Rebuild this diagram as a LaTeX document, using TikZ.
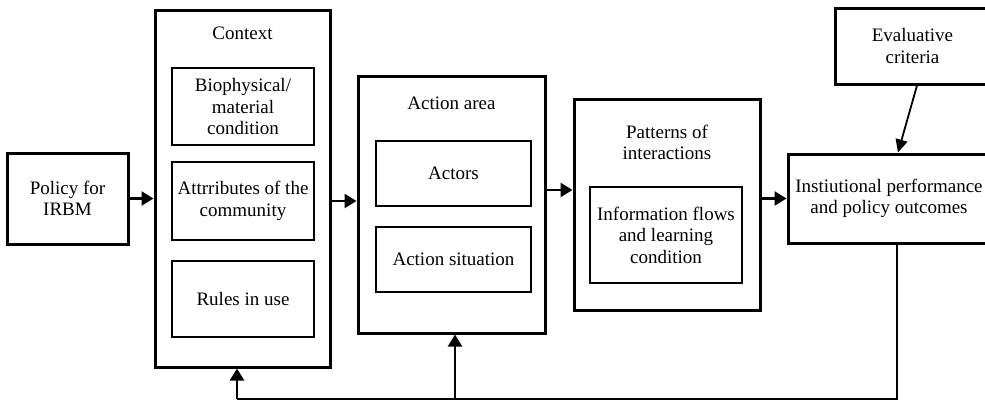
\documentclass[tikz,border=0pt]{standalone}
\usepackage{fontspec}
\setmainfont{Liberation Serif}
\usetikzlibrary{arrows.meta}
\newcommand\diafont{\fontsize{19}{21.5}\selectfont}
\begin{document}
\begin{tikzpicture}[x=1pt,y=-1pt,
  outerbox/.style={draw, line width=3pt, rectangle, inner sep=0pt, align=center, font=\diafont},
  innerbox/.style={draw, line width=2.7pt, rectangle, inner sep=0pt, align=center, font=\diafont},
  sz/.style 2 args={minimum width=#1, minimum height=#2},
  lbl/.style={inner sep=0pt, align=center, font=\diafont},
  arr/.style={line width=2.4pt, -{Triangle[length=12pt,width=14pt]}},
  thinarr/.style={line width=1.8pt, -{Triangle[length=13pt,width=12pt]}},
  ln/.style={line width=2.4pt}]
\useasboundingbox (0,0) rectangle (985,402);
\clip (0,0) rectangle (985,402);
\fill[white] (0,0) rectangle (985,402);

% Policy
\node[outerbox, sz={121}{91}] (policy) at (67.5,198.5) {Policy for\\IRBM};

% Context
\node[outerbox, sz={175}{357}] (context) at (242.5,188.5) {};
\node[lbl] (ctxlbl) at (242.5,33) {Context};
\node[innerbox, sz={142}{77}] (bio) at (243,106.5) {Biophysical/\\material\\condition};
\node[innerbox, sz={142}{78}] (attr) at (243,201) {Attrributes of the\\community};
\node[innerbox, sz={142}{76}] (rules) at (243,299) {Rules in use};

% Action area
\node[outerbox, sz={187}{257}] (action) at (451.5,204.5) {};
\node[lbl] (actlbl) at (451.5,103) {Action area};
\node[innerbox, sz={155}{65}] (actors) at (453.5,173.5) {Actors};
\node[innerbox, sz={155}{65}] (situation) at (453.5,259.5) {Action situation};

% Patterns
\node[outerbox, sz={186}{211}] (patterns) at (667,204.5) {};
\node[lbl] (patlbl) at (667,142.5) {Patterns of\\interactions};
\node[innerbox, sz={152}{96}] (info) at (666,235) {Information flows\\and learning\\condition};

% Performance
\node[outerbox, sz={202}{89}] (perf) at (889,198.5) {Instiutional performance\\and policy outcomes};

% Evaluative criteria
\node[outerbox, sz={155}{76}] (eval) at (912.5,46) {Evaluative\\criteria};

% Main flow arrows
\draw[arr] (policy.east) -- (policy.east -| context.west);
\draw[arr] (context.east |- attr) -- (action.west |- attr);
\coordinate (apout) at ([yshift=14.5pt]action.east);
\draw[arr] (apout) -- (apout -| patterns.west);
\draw[arr] (perf.west -| patterns.east) -- (perf.west);

% Evaluative arrow
\draw[thinarr] ([xshift=4.5pt]eval.south) -- ([xshift=9pt]perf.north);

% Feedback loop
\coordinate (base) at (0,399);
\coordinate (pfb) at ([xshift=8pt]perf.south);
\coordinate (cfb) at ([xshift=-5.5pt]context.south);
\coordinate (afb) at ([xshift=3.5pt]action.south);
\draw[ln] (pfb) |- (cfb |- base);
\draw[arr] (cfb |- base) -- (cfb);
\draw[arr] (afb |- base) -- (afb);
\end{tikzpicture}
\end{document}
